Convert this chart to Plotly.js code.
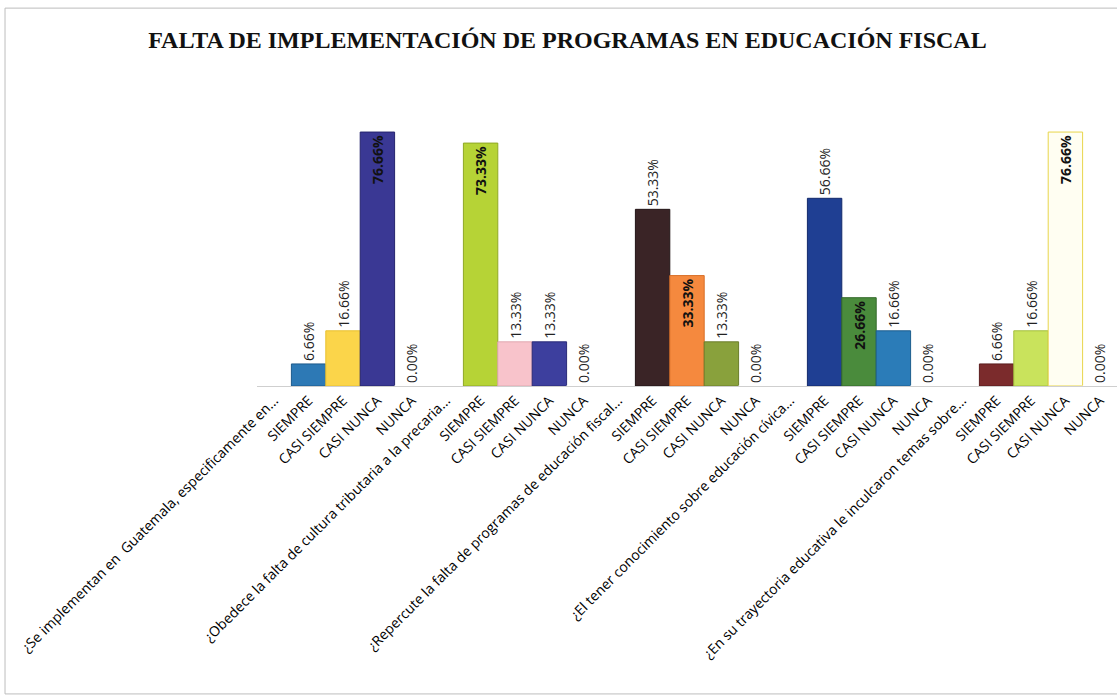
<!DOCTYPE html>
<html>
<head>
<meta charset="utf-8">
<script src="https://cdn.plot.ly/plotly-3.0.1.min.js"></script>
<style>html,body{margin:0;padding:0;background:#fff;}#chart{width:1117px;height:700px;}</style>
</head>
<body>
<div id="chart"></div>
<script>
const titleText = "FALTA DE IMPLEMENTACIÓN DE PROGRAMAS EN EDUCACIÓN FISCAL";
const questions = [
  "¿Se implementan en  Guatemala, especificamente en...",
  "¿Obedece la falta de cultura tributaria a la precaria...",
  "¿Repercute la falta de programas de educación fiscal...",
  "¿El tener conocimiento sobre educación cívica...",
  "¿En su trayectoria educativa le inculcaron temas sobre..."
];
const options = ["SIEMPRE", "CASI SIEMPRE", "CASI NUNCA", "NUNCA"];
const q1Values = [6.66, 16.66, 76.66, 0.00];
const q2Values = [73.33, 13.33, 13.33, 0.00];
const q3Values = [53.33, 33.33, 13.33, 0.00];
const q4Values = [56.66, 26.66, 16.66, 0.00];
const q5Values = [6.66, 16.66, 76.66, 0.00];
const allValues = [q1Values, q2Values, q3Values, q4Values, q5Values];

const barColors = [
  ["#2d79b5", "#fbd54a", "#3a3894", "#ffffff"],
  ["#b6d336", "#f8c3cb", "#3d3f9e", "#ffffff"],
  ["#3a2426", "#f5893e", "#89a13c", "#ffffff"],
  ["#1f3f93", "#4a8b3c", "#2b7cb8", "#ffffff"],
  ["#7b2b2c", "#c9e35c", "#fffef2", "#ffffff"]
];
const lineColors = [
  ["#1d5a8c", "#e8c030", "#25246e", "#ffffff"],
  ["#8fa825", "#e0a8b0", "#2a2b78", "#ffffff"],
  ["#221416", "#d86e28", "#6a7d2a", "#ffffff"],
  ["#13296b", "#33692a", "#1c5d8e", "#ffffff"],
  ["#5a1c1d", "#a3bf3c", "#e8d64a", "#ffffff"]
];
const insideFlags = [
  [false, false, true, false],
  [true, false, false, false],
  [false, true, false, false],
  [false, true, false, false],
  [false, false, true, false]
];

const xs = [], ys = [], cols = [], lcols = [], tpos = [];
const tickvals = [], ticktext = [];
let idx = 0;
questions.forEach((q, qi) => {
  tickvals.push(idx); ticktext.push(q); idx++;
  options.forEach((o, oi) => {
    tickvals.push(idx); ticktext.push(o);
    xs.push(idx); ys.push(allValues[qi][oi]);
    cols.push(barColors[qi][oi]); lcols.push(lineColors[qi][oi]);
    tpos.push(insideFlags[qi][oi] ? "inside" : "outside");
    idx++;
  });
});

const trace = {
  type: "bar",
  x: xs, y: ys,
  width: 1,
  marker: {color: cols, line: {color: lcols, width: 1}},
  texttemplate: "%{y:.2f}%",
  textposition: tpos,
  textangle: -90,
  insidetextanchor: "end",
  constraintext: "none",
  cliponaxis: false,
  textfont: {family: "Open Sans, sans-serif", size: 14, color: "#222"},
  insidetextfont: {family: "Open Sans, sans-serif", size: 14, color: "#111", weight: "bold"},
  outsidetextfont: {family: "Open Sans, sans-serif", size: 14, color: "#222"},
  hoverinfo: "skip"
};

const layout = {
  width: 1117, height: 700,
  margin: {l: 257, r: 0, t: 121, b: 314},
  paper_bgcolor: "#ffffff", plot_bgcolor: "#ffffff",
  showlegend: false,
  title: {
    text: "<b>" + titleText + "</b>",
    x: 0.508, xref: "container", xanchor: "center",
    y: 0.943, yref: "container", yanchor: "middle",
    font: {family: "Liberation Serif, Times New Roman, serif", size: 24, color: "#111"}
  },
  xaxis: {
    range: [-0.5, 24.5],
    tickmode: "array", tickvals: tickvals, ticktext: ticktext,
    tickangle: -45,
    tickfont: {family: "Open Sans, sans-serif", size: 14, color: "#000"},
    showgrid: false, zeroline: false,
    showline: true, linecolor: "#cfcfcf", linewidth: 1,
    ticks: "", fixedrange: true
  },
  yaxis: {
    range: [0, 80],
    showticklabels: false, showgrid: false, zeroline: false, showline: false,
    fixedrange: true
  },
  shapes: [{
    type: "rect", xref: "paper", yref: "paper",
    x0: -0.293, x1: 1.02, y0: -1.162, y1: 1.426,
    line: {color: "#bdbdbd", width: 1}, fillcolor: "rgba(0,0,0,0)", layer: "below"
  }],
  bargap: 0
};

Plotly.newPlot("chart", [trace], layout, {displayModeBar: false, staticPlot: true});
</script>
</body>
</html>
